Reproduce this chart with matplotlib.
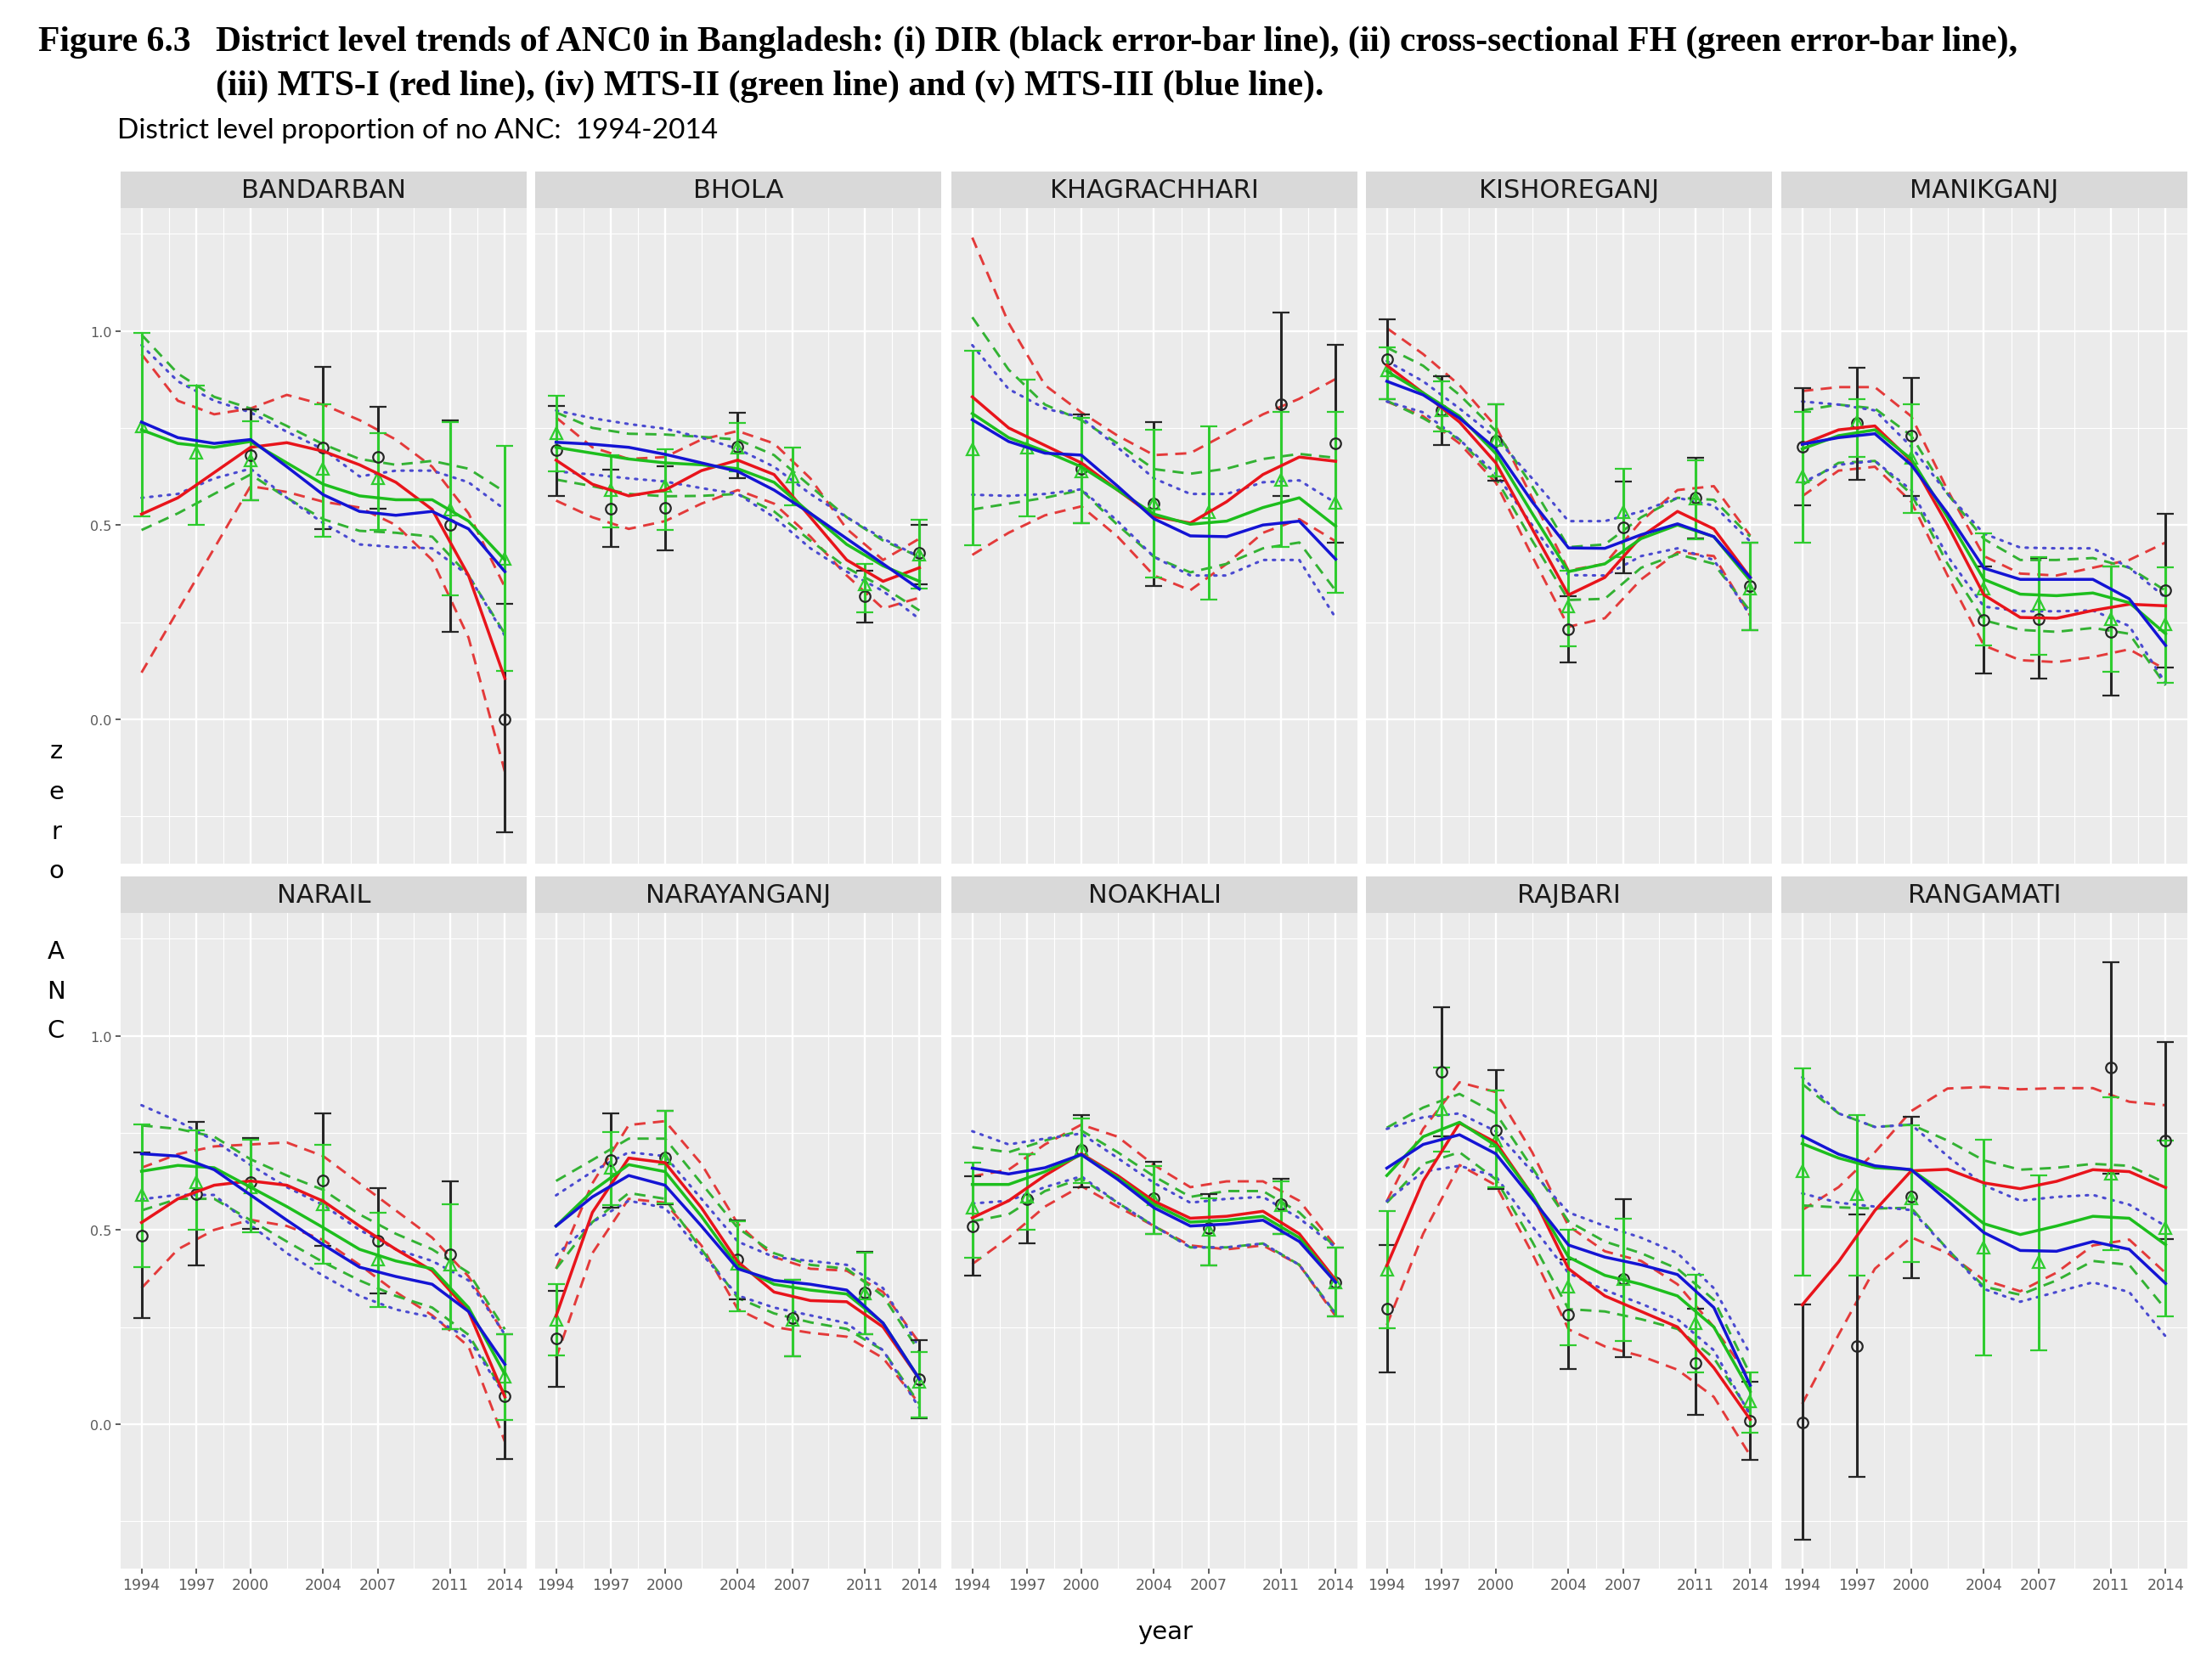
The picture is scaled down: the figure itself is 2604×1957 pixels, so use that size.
import numpy as np
import matplotlib
matplotlib.use("Agg")
import matplotlib.pyplot as plt
from matplotlib.patches import Rectangle

nan = np.nan

DISTRICTS = ["BANDARBAN", "BHOLA", "KHAGRACHHARI", "KISHOREGANJ", "MANIKGANJ",
             "NARAIL", "NARAYANGANJ", "NOAKHALI", "RAJBARI", "RANGAMATI"]
SURVEY_YEARS = [1994, 1997, 2000, 2004, 2007, 2011, 2014]
CURVE_YEARS = [1994, 1996, 1998, 2000, 2002, 2004, 2006, 2008, 2010, 2012, 2014]

# DIR estimates (black error bars), one row per district
DIR_EST = [
    [nan, nan, 0.680, 0.700, 0.675, 0.500, 0.000],
    [0.693, 0.543, 0.545, 0.702, nan, 0.316, 0.429],
    [nan, nan, 0.644, 0.555, nan, 0.812, 0.710],
    [0.926, 0.795, 0.717, 0.232, 0.494, 0.571, 0.342],
    [0.702, 0.763, 0.729, 0.255, 0.258, 0.226, 0.331],
    [0.485, 0.592, 0.622, 0.628, 0.472, 0.436, 0.071],
    [0.220, 0.679, 0.687, 0.423, 0.273, 0.339, 0.116],
    [0.510, 0.580, 0.705, 0.582, 0.505, 0.566, 0.365],
    [0.298, 0.907, 0.756, 0.281, 0.374, 0.157, 0.009],
    [0.003, 0.200, 0.586, nan, nan, 0.919, 0.731],
]
DIR_LO = [
    [nan, nan, 0.563, 0.490, 0.542, 0.226, -0.292],
    [0.574, 0.443, 0.435, 0.621, nan, 0.249, 0.348],
    [nan, nan, 0.505, 0.342, nan, 0.574, 0.455],
    [0.824, 0.705, 0.615, 0.147, 0.375, 0.466, 0.229],
    [0.551, 0.617, 0.574, 0.118, 0.104, 0.060, 0.133],
    [0.272, 0.408, 0.503, 0.459, 0.336, 0.244, -0.090],
    [0.095, 0.557, 0.566, 0.321, 0.174, 0.232, 0.014],
    [0.383, 0.466, 0.609, 0.490, 0.408, 0.490, 0.278],
    [0.133, 0.740, 0.606, 0.142, 0.172, 0.023, -0.093],
    [-0.298, -0.136, 0.375, nan, nan, 0.644, 0.476],
]
DIR_HI = [
    [nan, nan, 0.798, 0.907, 0.804, 0.769, 0.298],
    [0.806, 0.643, 0.652, 0.789, nan, 0.383, 0.500],
    [nan, nan, 0.785, 0.766, nan, 1.046, 0.963],
    [1.029, 0.884, 0.812, 0.316, 0.611, 0.673, 0.455],
    [0.853, 0.905, 0.879, 0.394, 0.415, 0.394, 0.528],
    [0.699, 0.779, 0.737, 0.801, 0.608, 0.624, 0.231],
    [0.342, 0.800, 0.806, 0.524, 0.371, 0.443, 0.217],
    [0.638, 0.696, 0.795, 0.675, 0.592, 0.632, 0.455],
    [0.461, 1.073, 0.911, 0.423, 0.580, 0.296, 0.110],
    [0.307, 0.539, 0.792, nan, nan, 1.189, 0.984],
]

# cross-sectional FH (green error bars)
FH_EST = [
    [0.754, 0.687, 0.667, 0.644, 0.620, 0.540, 0.414],
    [0.737, 0.590, 0.600, 0.700, 0.626, 0.348, 0.423],
    [0.696, 0.700, 0.638, 0.555, 0.534, 0.617, 0.557],
    [0.899, 0.795, 0.719, 0.290, 0.534, 0.568, 0.336],
    [0.626, 0.766, 0.673, 0.336, 0.296, 0.258, 0.244],
    [0.590, 0.622, 0.609, 0.567, 0.423, 0.410, 0.122],
    [0.269, 0.661, 0.684, 0.412, 0.269, 0.336, 0.110],
    [0.557, 0.586, 0.708, 0.580, 0.500, 0.563, 0.365],
    [0.397, 0.812, 0.731, 0.354, 0.374, 0.261, 0.058],
    [0.652, 0.592, 0.582, 0.455, 0.418, 0.644, 0.505],
]
FH_LO = [
    [0.522, 0.500, 0.563, 0.470, 0.487, 0.319, 0.124],
    [0.638, 0.493, 0.487, 0.638, 0.551, 0.276, 0.336],
    [0.447, 0.522, 0.505, 0.365, 0.307, 0.443, 0.325],
    [0.824, 0.742, 0.626, 0.188, 0.418, 0.464, 0.229],
    [0.455, 0.675, 0.531, 0.191, 0.165, 0.122, 0.093],
    [0.404, 0.500, 0.494, 0.413, 0.301, 0.244, 0.010],
    [0.176, 0.563, 0.568, 0.290, 0.174, 0.232, 0.017],
    [0.429, 0.500, 0.621, 0.490, 0.408, 0.490, 0.278],
    [0.246, 0.702, 0.609, 0.203, 0.215, 0.133, -0.023],
    [0.383, 0.383, 0.418, 0.176, 0.191, 0.447, 0.278],
]
FH_HI = [
    [0.994, 0.858, 0.768, 0.812, 0.737, 0.766, 0.704],
    [0.833, 0.679, 0.696, 0.763, 0.700, 0.400, 0.514],
    [0.949, 0.874, 0.777, 0.745, 0.754, 0.791, 0.791],
    [0.957, 0.870, 0.812, 0.383, 0.644, 0.667, 0.455],
    [0.791, 0.824, 0.812, 0.478, 0.418, 0.394, 0.391],
    [0.772, 0.756, 0.733, 0.718, 0.545, 0.567, 0.231],
    [0.360, 0.752, 0.806, 0.522, 0.371, 0.441, 0.186],
    [0.673, 0.696, 0.787, 0.664, 0.582, 0.626, 0.455],
    [0.548, 0.919, 0.858, 0.500, 0.528, 0.385, 0.133],
    [0.916, 0.795, 0.770, 0.733, 0.640, 0.841, 0.730],
]

# MTS-I (red), values at CURVE_YEARS
MTS1 = [
    [0.528, 0.570, 0.635, 0.700, 0.712, 0.690, 0.655, 0.610, 0.540, 0.370, 0.105],
    [0.667, 0.605, 0.575, 0.590, 0.640, 0.667, 0.630, 0.520, 0.410, 0.355, 0.390],
    [0.830, 0.750, 0.705, 0.660, 0.590, 0.522, 0.505, 0.560, 0.630, 0.675, 0.664],
    [0.911, 0.840, 0.765, 0.660, 0.490, 0.320, 0.365, 0.470, 0.535, 0.490, 0.365],
    [0.708, 0.745, 0.755, 0.665, 0.500, 0.320, 0.262, 0.260, 0.280, 0.296, 0.292],
    [0.519, 0.580, 0.615, 0.626, 0.615, 0.574, 0.510, 0.450, 0.395, 0.290, 0.070],
    [0.278, 0.545, 0.685, 0.673, 0.557, 0.418, 0.340, 0.318, 0.315, 0.250, 0.116],
    [0.531, 0.575, 0.640, 0.696, 0.640, 0.574, 0.530, 0.535, 0.548, 0.490, 0.371],
    [0.408, 0.626, 0.775, 0.725, 0.590, 0.400, 0.330, 0.290, 0.250, 0.145, 0.012],
    [0.307, 0.418, 0.550, 0.652, 0.656, 0.621, 0.606, 0.625, 0.655, 0.650, 0.609],
]
MTS1_LO = [
    [0.120, 0.280, 0.440, 0.600, 0.585, 0.560, 0.545, 0.500, 0.410, 0.210, -0.135],
    [0.563, 0.520, 0.490, 0.510, 0.555, 0.590, 0.555, 0.470, 0.370, 0.285, 0.313],
    [0.423, 0.480, 0.525, 0.548, 0.470, 0.370, 0.332, 0.400, 0.480, 0.515, 0.458],
    [0.818, 0.780, 0.710, 0.609, 0.420, 0.238, 0.260, 0.360, 0.430, 0.420, 0.267],
    [0.574, 0.640, 0.650, 0.560, 0.370, 0.190, 0.152, 0.147, 0.160, 0.180, 0.128],
    [0.350, 0.450, 0.500, 0.526, 0.510, 0.474, 0.410, 0.340, 0.280, 0.200, -0.045],
    [0.170, 0.440, 0.580, 0.570, 0.460, 0.296, 0.250, 0.235, 0.225, 0.170, 0.052],
    [0.412, 0.480, 0.560, 0.613, 0.560, 0.510, 0.460, 0.450, 0.460, 0.410, 0.278],
    [0.255, 0.490, 0.667, 0.615, 0.440, 0.244, 0.200, 0.175, 0.140, 0.070, -0.081],
    [0.052, 0.230, 0.400, 0.481, 0.440, 0.371, 0.342, 0.390, 0.460, 0.475, 0.389],
]
MTS1_HI = [
    [0.940, 0.820, 0.785, 0.800, 0.835, 0.810, 0.770, 0.720, 0.650, 0.530, 0.340],
    [0.777, 0.700, 0.670, 0.675, 0.720, 0.742, 0.710, 0.620, 0.490, 0.410, 0.465],
    [1.240, 1.020, 0.860, 0.790, 0.730, 0.680, 0.685, 0.735, 0.785, 0.825, 0.876],
    [1.007, 0.940, 0.860, 0.754, 0.570, 0.383, 0.400, 0.510, 0.590, 0.600, 0.473],
    [0.845, 0.855, 0.855, 0.780, 0.590, 0.420, 0.375, 0.370, 0.390, 0.410, 0.455],
    [0.660, 0.695, 0.715, 0.720, 0.725, 0.690, 0.620, 0.550, 0.480, 0.380, 0.230],
    [0.400, 0.620, 0.770, 0.780, 0.670, 0.516, 0.430, 0.400, 0.395, 0.340, 0.209],
    [0.638, 0.655, 0.720, 0.771, 0.740, 0.667, 0.610, 0.625, 0.625, 0.575, 0.458],
    [0.574, 0.760, 0.880, 0.855, 0.700, 0.510, 0.445, 0.420, 0.360, 0.250, 0.116],
    [0.551, 0.610, 0.700, 0.806, 0.864, 0.868, 0.862, 0.865, 0.865, 0.830, 0.821],
]

# MTS-II (green)
MTS2 = [
    [0.745, 0.710, 0.700, 0.715, 0.660, 0.605, 0.575, 0.565, 0.565, 0.510, 0.410],
    [0.700, 0.685, 0.670, 0.660, 0.655, 0.645, 0.610, 0.530, 0.450, 0.395, 0.355],
    [0.787, 0.725, 0.690, 0.650, 0.590, 0.528, 0.502, 0.510, 0.545, 0.570, 0.497],
    [0.896, 0.840, 0.780, 0.684, 0.530, 0.380, 0.400, 0.465, 0.500, 0.470, 0.357],
    [0.696, 0.730, 0.745, 0.670, 0.520, 0.360, 0.322, 0.318, 0.325, 0.300, 0.220],
    [0.651, 0.666, 0.660, 0.610, 0.560, 0.506, 0.450, 0.420, 0.400, 0.300, 0.128],
    [0.510, 0.600, 0.668, 0.650, 0.535, 0.406, 0.360, 0.345, 0.335, 0.260, 0.116],
    [0.617, 0.617, 0.650, 0.694, 0.635, 0.566, 0.520, 0.525, 0.535, 0.480, 0.365],
    [0.640, 0.740, 0.777, 0.717, 0.590, 0.430, 0.383, 0.360, 0.330, 0.250, 0.084],
    [0.722, 0.685, 0.660, 0.655, 0.590, 0.516, 0.488, 0.510, 0.535, 0.530, 0.462],
]
MTS2_LO = [
    [0.487, 0.530, 0.580, 0.630, 0.570, 0.515, 0.485, 0.480, 0.470, 0.370, 0.220],
    [0.617, 0.600, 0.580, 0.574, 0.575, 0.580, 0.535, 0.460, 0.390, 0.340, 0.280],
    [0.540, 0.555, 0.570, 0.590, 0.500, 0.418, 0.378, 0.400, 0.440, 0.455, 0.331],
    [0.820, 0.775, 0.720, 0.620, 0.460, 0.307, 0.310, 0.390, 0.425, 0.400, 0.278],
    [0.603, 0.660, 0.665, 0.580, 0.400, 0.255, 0.230, 0.225, 0.235, 0.220, 0.087],
    [0.550, 0.580, 0.580, 0.525, 0.470, 0.417, 0.370, 0.330, 0.300, 0.230, 0.077],
    [0.400, 0.520, 0.595, 0.580, 0.450, 0.325, 0.285, 0.262, 0.245, 0.190, 0.052],
    [0.522, 0.540, 0.600, 0.632, 0.570, 0.510, 0.455, 0.455, 0.465, 0.410, 0.284],
    [0.570, 0.670, 0.700, 0.630, 0.470, 0.296, 0.290, 0.270, 0.245, 0.170, 0.029],
    [0.563, 0.558, 0.555, 0.557, 0.450, 0.354, 0.333, 0.370, 0.420, 0.410, 0.296],
]
MTS2_HI = [
    [0.990, 0.890, 0.830, 0.800, 0.755, 0.708, 0.670, 0.655, 0.665, 0.645, 0.585],
    [0.790, 0.750, 0.735, 0.733, 0.727, 0.720, 0.680, 0.600, 0.520, 0.460, 0.418],
    [1.035, 0.900, 0.810, 0.770, 0.710, 0.644, 0.632, 0.645, 0.670, 0.683, 0.673],
    [0.957, 0.910, 0.835, 0.742, 0.600, 0.443, 0.450, 0.520, 0.570, 0.565, 0.470],
    [0.795, 0.810, 0.800, 0.730, 0.580, 0.464, 0.410, 0.410, 0.415, 0.390, 0.331],
    [0.769, 0.760, 0.740, 0.682, 0.640, 0.603, 0.540, 0.490, 0.450, 0.390, 0.244],
    [0.626, 0.680, 0.735, 0.735, 0.620, 0.505, 0.440, 0.410, 0.400, 0.330, 0.186],
    [0.713, 0.700, 0.730, 0.756, 0.700, 0.638, 0.585, 0.600, 0.600, 0.545, 0.455],
    [0.763, 0.815, 0.850, 0.800, 0.660, 0.522, 0.470, 0.440, 0.400, 0.320, 0.128],
    [0.876, 0.800, 0.765, 0.771, 0.730, 0.679, 0.655, 0.660, 0.670, 0.665, 0.621],
]

# MTS-III (blue)
MTS3 = [
    [0.765, 0.725, 0.710, 0.720, 0.650, 0.578, 0.535, 0.525, 0.535, 0.490, 0.380],
    [0.713, 0.708, 0.700, 0.682, 0.660, 0.638, 0.590, 0.530, 0.465, 0.400, 0.335],
    [0.771, 0.715, 0.685, 0.680, 0.600, 0.516, 0.472, 0.470, 0.500, 0.510, 0.412],
    [0.870, 0.835, 0.775, 0.696, 0.560, 0.441, 0.440, 0.475, 0.503, 0.470, 0.365],
    [0.708, 0.725, 0.735, 0.655, 0.530, 0.389, 0.360, 0.360, 0.360, 0.310, 0.190],
    [0.696, 0.690, 0.655, 0.590, 0.525, 0.462, 0.404, 0.380, 0.360, 0.290, 0.154],
    [0.510, 0.585, 0.640, 0.615, 0.510, 0.400, 0.370, 0.360, 0.345, 0.260, 0.116],
    [0.659, 0.644, 0.660, 0.694, 0.630, 0.557, 0.510, 0.515, 0.525, 0.470, 0.365],
    [0.659, 0.720, 0.745, 0.696, 0.580, 0.461, 0.430, 0.410, 0.385, 0.300, 0.100],
    [0.742, 0.695, 0.665, 0.655, 0.575, 0.493, 0.447, 0.445, 0.470, 0.450, 0.362],
]
MTS3_LO = [
    [0.570, 0.580, 0.620, 0.645, 0.570, 0.505, 0.450, 0.443, 0.440, 0.370, 0.215],
    [0.638, 0.630, 0.620, 0.612, 0.595, 0.580, 0.520, 0.440, 0.380, 0.330, 0.258],
    [0.578, 0.575, 0.580, 0.592, 0.510, 0.418, 0.370, 0.370, 0.410, 0.410, 0.261],
    [0.818, 0.790, 0.720, 0.632, 0.500, 0.371, 0.370, 0.420, 0.440, 0.410, 0.267],
    [0.609, 0.655, 0.665, 0.590, 0.420, 0.290, 0.278, 0.278, 0.280, 0.240, 0.093],
    [0.579, 0.590, 0.590, 0.513, 0.440, 0.382, 0.330, 0.295, 0.275, 0.220, 0.074],
    [0.435, 0.520, 0.575, 0.557, 0.440, 0.331, 0.300, 0.280, 0.260, 0.190, 0.041],
    [0.568, 0.575, 0.610, 0.638, 0.570, 0.510, 0.455, 0.455, 0.465, 0.410, 0.284],
    [0.574, 0.650, 0.665, 0.638, 0.510, 0.389, 0.345, 0.310, 0.270, 0.190, 0.023],
    [0.594, 0.570, 0.560, 0.551, 0.450, 0.348, 0.315, 0.340, 0.365, 0.340, 0.226],
]
MTS3_HI = [
    [0.963, 0.870, 0.820, 0.790, 0.740, 0.695, 0.625, 0.640, 0.640, 0.610, 0.540],
    [0.795, 0.775, 0.760, 0.748, 0.725, 0.696, 0.650, 0.580, 0.520, 0.465, 0.418],
    [0.963, 0.850, 0.800, 0.777, 0.700, 0.620, 0.580, 0.580, 0.610, 0.615, 0.557],
    [0.922, 0.870, 0.800, 0.725, 0.620, 0.510, 0.510, 0.535, 0.570, 0.550, 0.458],
    [0.818, 0.810, 0.795, 0.702, 0.580, 0.478, 0.442, 0.440, 0.440, 0.390, 0.313],
    [0.821, 0.780, 0.730, 0.667, 0.610, 0.564, 0.500, 0.450, 0.420, 0.370, 0.231],
    [0.589, 0.650, 0.700, 0.690, 0.580, 0.470, 0.430, 0.420, 0.410, 0.350, 0.197],
    [0.754, 0.720, 0.735, 0.748, 0.685, 0.621, 0.570, 0.580, 0.585, 0.530, 0.455],
    [0.760, 0.790, 0.800, 0.754, 0.650, 0.545, 0.510, 0.480, 0.440, 0.350, 0.180],
    [0.893, 0.800, 0.765, 0.771, 0.690, 0.615, 0.575, 0.585, 0.590, 0.565, 0.510],
]

W, H = 2604, 1958
COL_LEFT = [142, 630, 1120, 1608, 2097]
ROW_TOP = [246, 1076]
PANEL_W, PANEL_H, STRIP_H = 478, 772, 43

fig = plt.figure(figsize=(W / 100, H / 100), dpi=100)


def draw_errorbars(ax, est, lo, hi, color, marker, ms):
    x = np.array(SURVEY_YEARS, dtype=float)
    est, lo, hi = np.array(est), np.array(lo), np.array(hi)
    ok = ~np.isnan(est)
    yerr = [np.maximum(est[ok] - lo[ok], 0), np.maximum(hi[ok] - est[ok], 0)]
    ax.errorbar(x[ok], est[ok], yerr=yerr, fmt=marker, mfc="none", mec=color,
                mew=1.6, ms=ms, ecolor=color, elinewidth=2.2, capsize=7,
                capthick=2.2, zorder=3)


for i, name in enumerate(DISTRICTS):
    row, col = divmod(i, 5)
    left, top = COL_LEFT[col], ROW_TOP[row]
    ax = fig.add_axes([left / W, 1 - (top + PANEL_H) / H, PANEL_W / W, PANEL_H / H])
    ax.set_facecolor("#EBEBEB")
    ax.set_xlim(1992.85, 2015.2)
    ax.set_ylim(-0.372, 1.316)
    ax.set_xticks(SURVEY_YEARS)
    ax.set_xticks([1995.5, 1998.5, 2002, 2005.5, 2009, 2012.5], minor=True)
    ax.set_yticks([0.0, 0.5, 1.0])
    ax.set_yticks([-0.25, 0.25, 0.75, 1.25], minor=True)
    ax.set_yticklabels(["0.0", "0.5", "1.0"])
    ax.grid(which="major", color="white", lw=1.7)
    ax.grid(which="minor", color="white", lw=0.8)
    ax.set_axisbelow(True)
    for s in ax.spines.values():
        s.set_visible(False)
    ax.tick_params(which="minor", length=0)
    ax.tick_params(which="major", length=4, width=1.1, color="#333333",
                   labelcolor="#5A5A5A")
    ax.tick_params(axis="y", labelsize=11.5)
    for lab in ax.get_xticklabels():
        lab.set_family(["Liberation Sans Narrow", "DejaVu Sans"])
        lab.set_fontsize(12.5)
    if row == 0:
        ax.tick_params(axis="x", length=0, labelbottom=False)
    if col > 0:
        ax.tick_params(axis="y", length=0, labelleft=False)

    # strip header
    sh = STRIP_H / PANEL_H
    ax.add_patch(Rectangle((0, 1), 1, sh, transform=ax.transAxes,
                           facecolor="#D9D9D9", edgecolor="none", clip_on=False))
    ax.text(0.5, 1 + sh / 2, name, transform=ax.transAxes, ha="center",
            va="center", fontsize=22, color="#1A1A1A")

    # confidence bands
    ax.plot(CURVE_YEARS, MTS1_HI[i], color="#E33A3A", lw=2.1, dashes=(4.5, 3), zorder=2)
    ax.plot(CURVE_YEARS, MTS1_LO[i], color="#E33A3A", lw=2.1, dashes=(4.5, 3), zorder=2)
    ax.plot(CURVE_YEARS, MTS2_HI[i], color="#33B233", lw=2.1, dashes=(4.5, 3), zorder=2)
    ax.plot(CURVE_YEARS, MTS2_LO[i], color="#33B233", lw=2.1, dashes=(4.5, 3), zorder=2)
    ax.plot(CURVE_YEARS, MTS3_HI[i], color="#4A4AD0", lw=2.2, dashes=(0.8, 2.6),
            dash_capstyle="round", zorder=2)
    ax.plot(CURVE_YEARS, MTS3_LO[i], color="#4A4AD0", lw=2.2, dashes=(0.8, 2.6),
            dash_capstyle="round", zorder=2)

    # direct and FH estimates
    draw_errorbars(ax, DIR_EST[i], DIR_LO[i], DIR_HI[i], "#262626", "o", 9)
    draw_errorbars(ax, FH_EST[i], FH_LO[i], FH_HI[i], "#2FCC2F", "^", 10)

    # model trends
    ax.plot(CURVE_YEARS, MTS1[i], color="#E8141B", lw=2.5, zorder=4)
    ax.plot(CURVE_YEARS, MTS2[i], color="#1DBE1D", lw=2.5, zorder=4)
    ax.plot(CURVE_YEARS, MTS3[i], color="#1414D4", lw=2.5, zorder=4)

# titles
serif = ["Liberation Serif", "DejaVu Serif"]
fig.text(45 / W, 1 - 50 / H, "Figure 6.3", family=serif, weight="bold",
         fontsize=30, va="center", ha="left")
fig.text(254 / W, 1 - 50 / H,
         "District level trends of ANC0 in Bangladesh: (i) DIR (black error-bar line), "
         "(ii) cross-sectional FH (green error-bar line),",
         family=serif, weight="bold", fontsize=30, va="center", ha="left")
fig.text(254 / W, 1 - 102 / H,
         "(iii) MTS-I (red line), (iv) MTS-II (green line) and (v) MTS-III (blue line).",
         family=serif, weight="bold", fontsize=30, va="center", ha="left")
fig.text(138 / W, 1 - 154 / H, "District level proportion of no ANC:  1994-2014",
         family=["Lato", "DejaVu Sans"], fontsize=24, va="center", ha="left")

# axis labels
ylab = {"z": 885, "e": 933, "r": 980, "o": 1026, "A": 1121, "N": 1168, "C": 1214}
for ch, ypx in ylab.items():
    fig.text(66 / W, 1 - ypx / H, ch, fontsize=21, ha="center", va="center")
fig.text(1372 / W, 1 - 1922 / H, "year", fontsize=21, ha="center", va="center")

fig.savefig("out.png", dpi=100, facecolor="white")
